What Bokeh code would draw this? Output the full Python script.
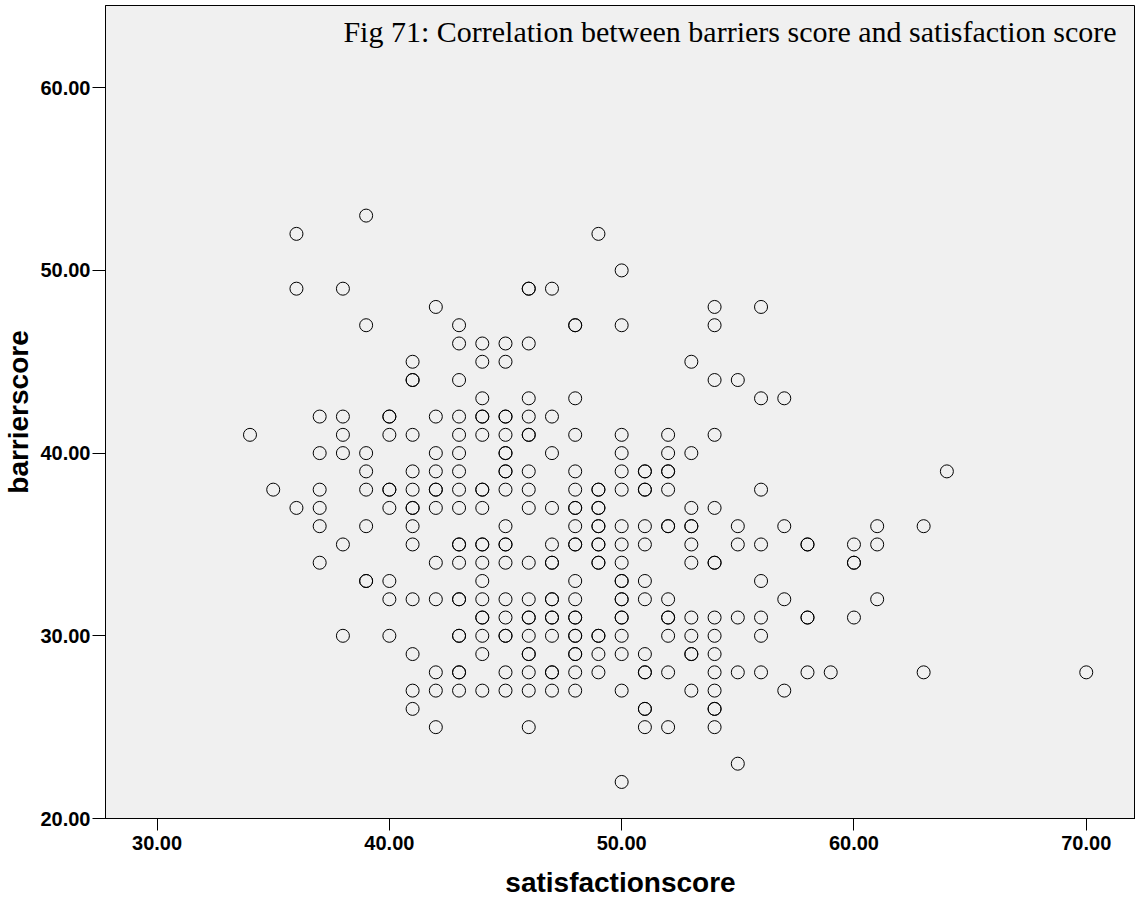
from bokeh.plotting import figure
from bokeh.models import Range1d, FixedTicker, PrintfTickFormatter, Label, ColumnDataSource
from bokeh.embed import file_html
from bokeh.resources import INLINE

# barrier score levels (y) and satisfaction scores (x) observed at each level
barrier_levels = [53, 52, 50, 49, 48, 47, 46, 45, 44, 43, 42, 41, 40, 39, 38,
                  37, 36, 35, 34, 33, 32, 31, 30, 29, 28, 27, 26, 25, 23, 22]
satisfaction_at_level = [
    [39],
    [36, 49],
    [50],
    [36, 38, 46, 46, 47],
    [42, 54, 56],
    [39, 43, 48, 48, 50, 54],
    [43, 44, 45, 46],
    [41, 44, 45, 53],
    [41, 41, 43, 54, 55],
    [44, 46, 48, 56, 57],
    [37, 38, 40, 40, 42, 43, 44, 44, 45, 45, 46, 47],
    [34, 38, 40, 41, 43, 44, 45, 46, 46, 48, 50, 52, 54],
    [37, 38, 39, 42, 43, 45, 45, 47, 50, 52, 53],
    [39, 41, 42, 43, 45, 45, 46, 48, 50, 51, 51, 52, 52, 64],
    [35, 37, 39, 40, 40, 41, 42, 42, 43, 44, 44, 45, 46, 48, 49, 49, 50, 51, 51, 52, 56],
    [36, 37, 40, 41, 41, 42, 43, 44, 46, 47, 48, 48, 49, 49, 53, 54],
    [37, 39, 41, 45, 48, 49, 49, 50, 51, 52, 52, 53, 53, 55, 57, 61, 63],
    [38, 41, 43, 43, 44, 44, 45, 45, 47, 48, 48, 49, 49, 50, 51, 53, 55, 56, 58, 58, 60, 61],
    [37, 42, 43, 44, 45, 46, 47, 47, 49, 49, 50, 53, 54, 54, 60, 60],
    [39, 39, 40, 44, 48, 50, 50, 51, 56],
    [40, 41, 42, 43, 43, 44, 45, 46, 47, 47, 48, 50, 50, 51, 52, 57, 61],
    [44, 44, 45, 46, 46, 47, 47, 48, 48, 50, 50, 52, 52, 53, 54, 55, 56, 58, 58, 60],
    [38, 40, 43, 43, 44, 45, 45, 46, 47, 48, 48, 49, 49, 50, 52, 53, 54, 56],
    [41, 44, 46, 46, 48, 48, 49, 50, 51, 53, 53, 54],
    [42, 43, 43, 45, 46, 47, 47, 48, 49, 51, 51, 52, 54, 55, 56, 58, 59, 63, 70],
    [41, 42, 43, 44, 45, 46, 47, 48, 50, 53, 54, 57],
    [41, 51, 51, 54, 54],
    [42, 46, 51, 52, 54],
    [55],
    [50],
]
x_ticks = [30, 40, 50, 60, 70]
y_ticks = [20, 30, 40, 50, 60]
title_text = "Fig 71: Correlation between barriers score and satisfaction score"
x_label = "satisfactionscore"
y_label = "barrierscore"

xs, ys = [], []
for lvl, row in zip(barrier_levels, satisfaction_at_level):
    for s in row:
        xs.append(s)
        ys.append(lvl)
src = ColumnDataSource(dict(x=xs, y=ys))

p = figure(width=1135, height=911, output_backend="svg", toolbar_location=None,
           x_range=Range1d(27.78, 72.12), y_range=Range1d(20, 64.5),
           min_border_left=101, min_border_right=0, min_border_top=5, min_border_bottom=93)
p.background_fill_color = "#F0F0F0"
p.border_fill_color = "white"
p.outline_line_color = "black"
p.outline_line_width = 1
p.grid.visible = False

p.scatter("x", "y", source=src, marker="circle", size=13, fill_color=None,
          line_color="black", line_width=1)

for ax, ticks, lab in ((p.xaxis[0], x_ticks, x_label), (p.yaxis[0], y_ticks, y_label)):
    ax.ticker = FixedTicker(ticks=ticks)
    ax.formatter = PrintfTickFormatter(format="%.2f")
    ax.minor_tick_in = 0
    ax.minor_tick_out = 0
    ax.major_tick_in = 0
    ax.major_tick_line_color = "black"
    ax.axis_line_color = "black"
    ax.major_label_text_font = "Liberation Sans"
    ax.major_label_text_font_style = "bold"
    ax.major_label_text_font_size = "20px"
    ax.major_label_text_color = "black"
    ax.axis_label = lab
    ax.axis_label_text_font = "Liberation Sans"
    ax.axis_label_text_font_style = "bold"
    ax.axis_label_text_font_size = "28px"
    ax.axis_label_text_color = "black"

p.xaxis.major_tick_out = 12
p.xaxis.major_label_standoff = 5
p.xaxis.axis_label_standoff = 14
p.yaxis.major_tick_out = 13
p.yaxis.major_label_standoff = 2
p.yaxis.axis_label_standoff = 3

p.add_layout(Label(x=1011, y=787, x_units="screen", y_units="screen", text=title_text,
                   text_align="right", text_baseline="middle",
                   text_font="Liberation Serif", text_font_size="30px", text_color="black"))

open("out.html", "w").write(file_html(p, INLINE))
